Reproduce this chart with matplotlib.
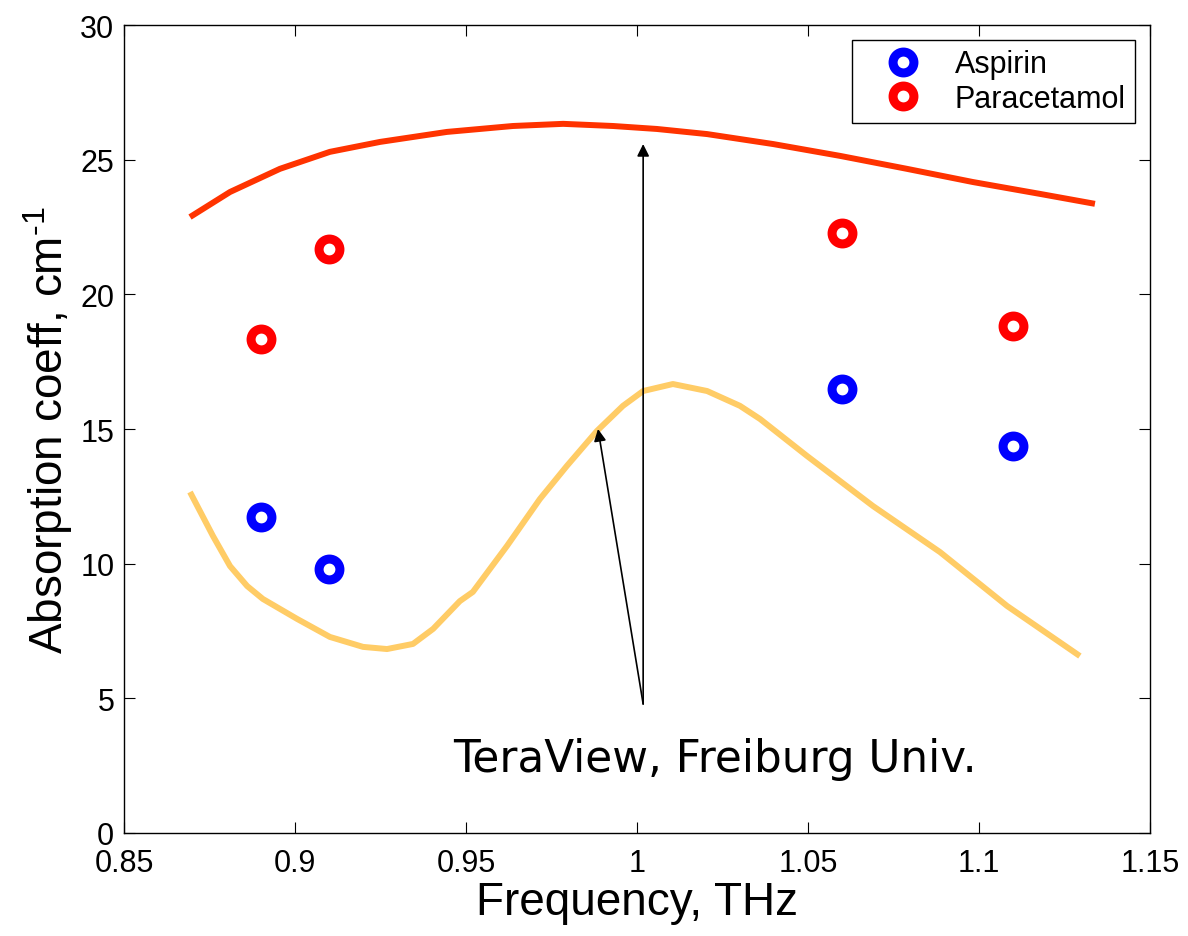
import numpy as np
import matplotlib
matplotlib.use("Agg")
import matplotlib.pyplot as plt

plt.rcParams["font.family"] = ["Liberation Sans", "DejaVu Sans"]
plt.rcParams["mathtext.fontset"] = "custom"
plt.rcParams["mathtext.rm"] = "Liberation Sans"

# ---------- data ----------
freq_pts = [0.89, 0.91, 1.06, 1.11]
aspirin = [11.73, 9.80, 16.49, 14.37]
paracetamol = [18.34, 21.68, 22.28, 18.83]

# TeraView 曲线(上,红橙)
tv_x = [0.8693, 0.8810, 0.8956, 0.9102, 0.9249, 0.9444, 0.9637, 0.9784, 0.9930,
        1.0058, 1.0205, 1.0398, 1.0594, 1.0789, 1.0982, 1.1178, 1.1339]
tv_y = [22.87, 23.80, 24.66, 25.29, 25.66, 26.03, 26.25, 26.33, 26.25,
        26.14, 25.95, 25.58, 25.14, 24.66, 24.17, 23.73, 23.36]

# Freiburg 曲线(下,浅橙)
fb_x = [0.8693, 0.8760, 0.8810, 0.8860, 0.8906, 0.9006, 0.9102, 0.9199, 0.9269,
        0.9345, 0.9404, 0.9482, 0.9520, 0.9620, 0.9716, 0.9795, 0.9883, 0.9959,
        1.0018, 1.0105, 1.0205, 1.0301, 1.0360, 1.0497, 1.0690, 1.0886, 1.1082,
        1.1295]
fb_y = [12.66, 11.03, 9.91, 9.17, 8.69, 7.95, 7.28, 6.91, 6.83,
        7.02, 7.58, 8.61, 8.95, 10.66, 12.40, 13.63, 14.93, 15.86,
        16.41, 16.67, 16.41, 15.86, 15.37, 14.00, 12.14, 10.43, 8.43,
        6.57]

# ---------- plot ----------
fig = plt.figure(figsize=(11.88, 9.37), dpi=100)
ax = fig.add_axes([124 / 1188, 1 - 834 / 937, 1026 / 1188, 808 / 937])

ax.plot(tv_x, tv_y, color="#ff3300", lw=4.3, solid_capstyle="butt",
        solid_joinstyle="round")
ax.plot(fb_x, fb_y, color="#ffcc66", lw=4.3, solid_capstyle="butt",
        solid_joinstyle="round")

mk = dict(ls="none", marker="o", ms=15, mew=6.5, mfc="white")
ax.plot(freq_pts, aspirin, mec="#0000ff", label="Aspirin", **mk)
ax.plot(freq_pts, paracetamol, mec="#ff0000", label="Paracetamol", **mk)

# arrows from the annotation point
arr = dict(arrowstyle="-|>", color="black", lw=1.2, mutation_scale=18,
           shrinkA=0, shrinkB=0)
ax.annotate("", xy=(1.0018, 25.58), xytext=(1.0018, 4.79), arrowprops=arr)
ax.annotate("", xy=(0.9886, 15.0), xytext=(1.0018, 4.79), arrowprops=arr)
ax.text(1.0228, 2.75, "TeraView, Freiburg Univ.", fontsize=31.5,
        family="DejaVu Sans", ha="center", va="center")

ax.set_xlim(0.85, 1.15)
ax.set_ylim(0, 30)
ax.set_xticks([0.85, 0.9, 0.95, 1.0, 1.05, 1.1, 1.15])
ax.set_xticklabels(["0.85", "0.9", "0.95", "1", "1.05", "1.1", "1.15"])
ax.set_yticks(range(0, 31, 5))
ax.tick_params(direction="in", labelsize=22, length=8, top=True, right=True,
               width=0.8)
ax.tick_params(axis="x", pad=11)
ax.tick_params(axis="y", pad=7)
for s in ax.spines.values():
    s.set_linewidth(1.0)

ax.set_xlabel("Frequency, THz", fontsize=33, labelpad=1)
ax.set_ylabel(r"Absorption coeff, cm$^{\text{-1}}$", fontsize=33, labelpad=4)

leg = ax.legend(loc="upper right", fontsize=22, frameon=True, fancybox=False,
                edgecolor="black", framealpha=1, borderaxespad=0.5,
                handlelength=2.7, handletextpad=0.35, borderpad=0.3,
                labelspacing=0.15)
leg.get_frame().set_linewidth(1.0)

plt.savefig("out.png", dpi=100)
